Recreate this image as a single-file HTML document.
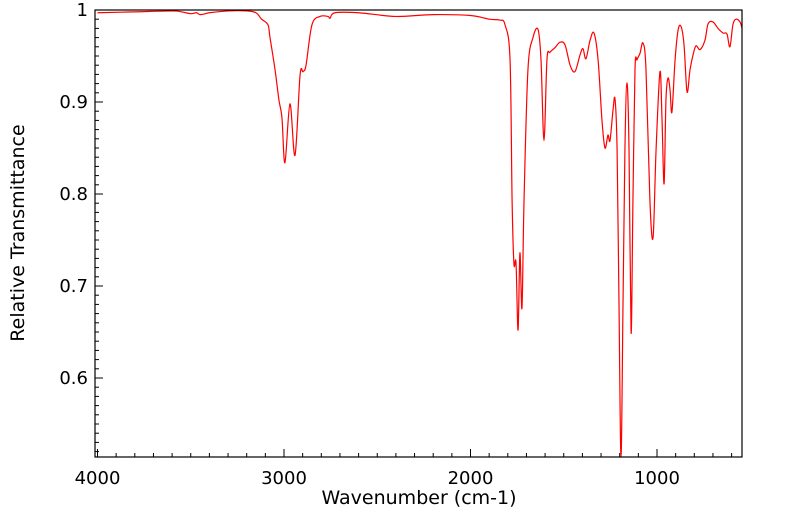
<!DOCTYPE html>
<html><head><meta charset="utf-8"><style>
html,body{margin:0;padding:0;background:#fff;}
svg{display:block;font-family:"DejaVu Sans","Liberation Sans",sans-serif;}
</style></head><body>
<svg id="chart" width="799" height="516" viewBox="0 0 799 516" xmlns="http://www.w3.org/2000/svg">
<g id="ticks"></g>
<path id="spectrum" fill="none" stroke="#ff0000" stroke-width="1.2"/>
<rect x="95" y="10" width="647" height="447" fill="none" stroke="#000" stroke-width="1.2"/>
<text x="419" y="504" font-size="19" text-anchor="middle">Wavenumber (cm-1)</text>
<text x="0" y="0" font-size="19" text-anchor="middle" transform="translate(24,233) rotate(-90)">Relative Transmittance</text>
</svg>
<script>
const wavenumbers=[4000,3800,3600,3550,3500,3470,3450,3420,3400,3300,3200,3150,3120,3086,3075,3048,3027,3011,2995,2968,2941,2914,2898,2882,2850,2807,2764,2753,2727,2600,2400,2200,2000,1900,1842,1815,1788,1777,1767,1756,1745,1735,1724,1713,1692,1665,1638,1622,1606,1590,1574,1547,1520,1493,1466,1440,1413,1397,1381,1359,1338,1316,1295,1279,1263,1252,1236,1225,1214,1204,1193,1182,1172,1161,1150,1139,1129,1118,1107,1091,1075,1059,1038,1021,1005,984,973,962,952,941,930,920,903,887,871,855,839,823,807,791,769,743,726,700,673,646,625,609,593,576,555,544];
const transmittance=[0.997,0.998,0.999,0.998,0.996,0.997,0.995,0.996,0.997,0.999,0.999,0.997,0.99,0.984,0.97,0.935,0.902,0.883,0.834,0.898,0.842,0.929,0.933,0.94,0.984,0.993,0.993,0.991,0.997,0.997,0.993,0.995,0.994,0.99,0.989,0.984,0.946,0.793,0.724,0.725,0.652,0.736,0.676,0.793,0.935,0.97,0.979,0.946,0.858,0.946,0.954,0.959,0.965,0.962,0.94,0.933,0.951,0.958,0.947,0.967,0.975,0.946,0.88,0.85,0.864,0.858,0.891,0.903,0.848,0.685,0.514,0.685,0.848,0.921,0.848,0.649,0.793,0.935,0.946,0.953,0.964,0.935,0.793,0.753,0.848,0.933,0.88,0.811,0.902,0.926,0.913,0.889,0.946,0.978,0.982,0.962,0.911,0.935,0.951,0.961,0.957,0.967,0.985,0.987,0.98,0.975,0.974,0.96,0.984,0.99,0.987,0.98];
const xTickLabels=[4000,3000,2000,1000];
const yTickLabels=[0.6,0.7,0.8,0.9,1];
const NS="http://www.w3.org/2000/svg";
function xScale(w){return 97.5+(4000-w)*0.1865;}
function yScale(t){return 10+(1-t)*920;}
const pts=wavenumbers.map((w,i)=>[xScale(w),yScale(transmittance[i])]);
let d="M"+pts[0][0].toFixed(2)+","+pts[0][1].toFixed(2);
for(let i=0;i<pts.length-1;i++){
 const p0=pts[Math.max(0,i-1)],p1=pts[i],p2=pts[i+1],p3=pts[Math.min(pts.length-1,i+2)];
 const c1x=p1[0]+(p2[0]-p0[0])/6,c1y=p1[1]+(p2[1]-p0[1])/6;
 const c2x=p2[0]-(p3[0]-p1[0])/6,c2y=p2[1]-(p3[1]-p1[1])/6;
 d+=" C"+c1x.toFixed(2)+","+c1y.toFixed(2)+" "+c2x.toFixed(2)+","+c2y.toFixed(2)+" "+p2[0].toFixed(2)+","+p2[1].toFixed(2);
}
const sp=document.getElementById('spectrum');
sp.setAttribute('d',d);
const g=document.getElementById('ticks');
function line(x1,y1,x2,y2,name){
 const l=document.createElementNS(NS,'line');
 l.setAttribute('x1',x1);l.setAttribute('y1',y1);l.setAttribute('x2',x2);l.setAttribute('y2',y2);
 l.setAttribute('stroke','#000');l.setAttribute('stroke-width','1');
 
 
 g.appendChild(l);
}
function text(x,y,s,anchor,name){
 const t=document.createElementNS(NS,'text');
 t.setAttribute('x',x);t.setAttribute('y',y);t.setAttribute('font-size','18');t.setAttribute('text-anchor',anchor);
 t.textContent=s;
 
 
 g.appendChild(t);
}
for(let w=4000;w>=600;w-=100){
 const x=xScale(w);const major=(w%1000===0);
 line(x,457,x,457-(major?8:4),major?'x-major-tick':'x-minor-tick');
}
xTickLabels.forEach(v=>text(xScale(v),484,String(v),'middle','x-tick-label'));
for(let k=52;k<=100;k++){
 const t=k/100;const y=yScale(t);const major=(k%10===0);
 line(95,y,95+(major?8:4),y,major?'y-major-tick':'y-minor-tick');
}
yTickLabels.forEach(v=>text(88,yScale(v)+6,String(v),'end','y-tick-label'));
</script>
</body></html>
